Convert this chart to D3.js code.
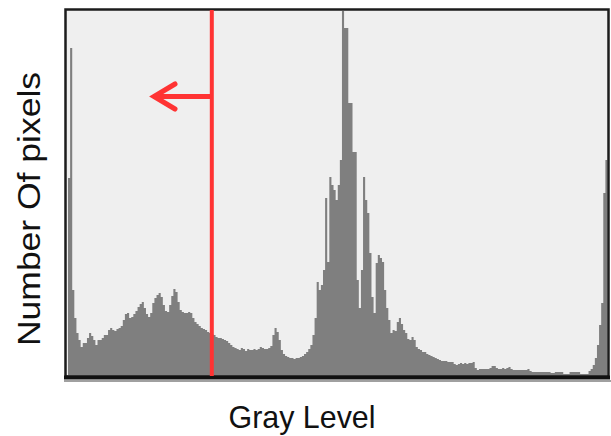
<!DOCTYPE html>
<html lang="en">
<head>
<meta charset="utf-8">
<script src="https://d3js.org/d3.v7.min.js"></script>
<style>
  body { margin: 0; background: #fff; }
  svg { display: block; }
  text { font-family: "Liberation Sans", Arial, sans-serif; fill: #111; }
</style>
</head>
<body>
<script>
// gray levels 0..255 (categories)
var levels = d3.range(256);

// pixel counts per gray level
var counts = [
  1970, 3270, 850, 570, 420, 350, 280, 320, 320, 370,
  420, 390, 350, 300, 350, 350, 370, 400, 400, 450,
  470, 450, 440, 460, 470, 490, 550, 610, 620, 570,
  580, 610, 640, 680, 710, 730, 670, 610, 580, 620,
  720, 770, 800, 820, 780, 700, 640, 630, 700, 790,
  860, 830, 730, 650, 630, 620, 620, 630, 620, 570,
  530, 510, 490, 470, 460, 450, 430, 420, 410, 400,
  380, 370, 370, 360, 350, 340, 320, 300, 280, 270,
  260, 250, 270, 260, 240, 260, 250, 250, 260, 250,
  260, 280, 270, 260, 260, 270, 290, 400, 470, 430,
  350, 250, 210, 190, 180, 170, 170, 160, 170, 170,
  180, 190, 210, 230, 260, 300, 400, 570, 930, 850,
  900, 1050, 1770, 1130, 1980, 1900, 1850, 1750, 1900, 2150,
  3640, 3470, 3470, 2720, 2720, 2230, 2230, 950, 670, 1050,
  1980, 1750, 1620, 1220, 780, 620, 1120, 1200, 1170, 1130,
  850, 670, 550, 420, 450, 440, 530, 570, 510, 450,
  420, 360, 350, 380, 350, 280, 260, 250, 230, 230,
  210, 200, 190, 180, 170, 160, 150, 140, 140, 140,
  130, 130, 130, 110, 100, 110, 120, 110, 120, 110,
  120, 120, 130, 70, 50, 60, 60, 60, 60, 60,
  70, 90, 90, 70, 60, 60, 70, 60, 70, 80,
  60, 50, 50, 50, 50, 50, 50, 50, 60, 40,
  30, 30, 30, 30, 30, 30, 30, 30, 30, 20,
  20, 30, 30, 30, 30, 10, 10, 10, 30, 30,
  30, 30, 30, 10, 10, 10, 10, 40, 60, 100,
  170, 300, 500, 720, 1820, 2150
];

// threshold gray level marked by the red line
var threshold = 68;

var xLabel = "Gray Level";
var yLabel = "Number Of pixels";

var width = 611, height = 436;
var plotLeft = 68, plotRight = 607.5, plotTop = 11, plotBottom = 375;

var svg = d3.select("body").append("svg")
    .attr("width", width)
    .attr("height", height);

var x = d3.scaleLinear().domain([0, 256]).range([plotLeft, plotRight]);
var y = d3.scaleLinear().domain([0, 3640]).range([plotBottom, plotTop]);

// plot background
svg.append("rect")
    .attr("x", plotLeft - 2).attr("y", plotTop - 2)
    .attr("width", plotRight - plotLeft + 3).attr("height", plotBottom - plotTop + 3)
    .attr("fill", "#efefef");

// histogram drawn as one stepped area so bars have no seams
var binData = levels.map(function (d) { return { level: d, count: counts[d] }; });
binData.push({ level: 256, count: counts[255] });

var area = d3.area()
    .curve(d3.curveStepAfter)
    .x(function (d) { return x(d.level); })
    .y0(y(0))
    .y1(function (d) { return y(d.count); });

svg.append("path")
    .datum(binData)
    .attr("d", area)
    .attr("fill", "#7f7f7f");

// frame
svg.append("line")
    .attr("x1", 64).attr("x2", 611).attr("y1", 381).attr("y2", 381)
    .attr("stroke", "#a0a0a0").attr("stroke-width", 2);
svg.append("rect")
    .attr("x", 65.5).attr("y", 9.5)
    .attr("width", 543).attr("height", 367)
    .attr("fill", "none")
    .attr("stroke", "#1c1c1c")
    .attr("stroke-width", 2.5);
svg.append("line")
    .attr("x1", 64).attr("x2", 610).attr("y1", 377.5).attr("y2", 377.5)
    .attr("stroke", "#111").attr("stroke-width", 4);

// red threshold line and arrow
var red = "#ff3333";
var tx = x(threshold) + 0.5;
svg.append("line")
    .attr("x1", tx).attr("x2", tx)
    .attr("y1", 10).attr("y2", 376)
    .attr("stroke", red).attr("stroke-width", 4);
svg.append("line")
    .attr("x1", tx).attr("x2", 155)
    .attr("y1", 96.5).attr("y2", 96.5)
    .attr("stroke", red).attr("stroke-width", 5);
svg.append("path")
    .attr("d", "M175,84 L154,96.5 L175,109")
    .attr("fill", "none")
    .attr("stroke", red).attr("stroke-width", 5)
    .attr("stroke-linecap", "round")
    .attr("stroke-linejoin", "miter");

// axis titles
svg.append("text")
    .attr("x", 302).attr("y", 428)
    .attr("text-anchor", "middle")
    .attr("font-size", 32)
    .attr("textLength", 147)
    .attr("lengthAdjust", "spacingAndGlyphs")
    .text(xLabel);

svg.append("text")
    .attr("transform", "translate(40,209) rotate(-90)")
    .attr("text-anchor", "middle")
    .attr("font-size", 32)
    .attr("textLength", 274)
    .attr("lengthAdjust", "spacingAndGlyphs")
    .text(yLabel);
</script>
</body>
</html>
